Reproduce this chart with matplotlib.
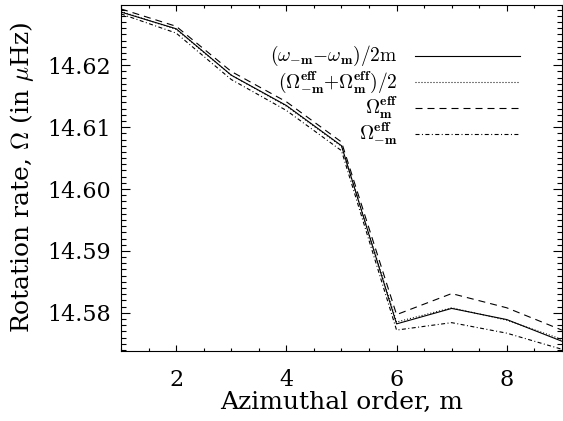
import numpy as np
import matplotlib
matplotlib.use('Agg')
import matplotlib.pyplot as plt
from matplotlib.ticker import MultipleLocator

## Data:
m = [1, 2, 3, 4, 5, 6, 7, 8, 9]
omega_diff = [14.6286, 14.6259, 14.6184, 14.6135, 14.6070, 14.5782, 14.5807, 14.5789, 14.5754]  # (w_-m - w_m)/2m
omega_avg = [14.6287, 14.6258, 14.6184, 14.6134, 14.6069, 14.5785, 14.5808, 14.5788, 14.5757]   # (O_-m + O_m)/2
omega_m = [14.6291, 14.6263, 14.6190, 14.6141, 14.6076, 14.5797, 14.5831, 14.5808, 14.5772]     # O_m eff
omega_mm = [14.6283, 14.6252, 14.6177, 14.6127, 14.6062, 14.5772, 14.5784, 14.5767, 14.5741]    # O_-m eff

labels = [r'$(\omega_{\mathbf{-m}}{-}\omega_{\mathbf{m}})/2\mathrm{m}$',
          r'$(\Omega^{\mathbf{eff}}_{\mathbf{-m}}{+}\Omega^{\mathbf{eff}}_{\mathbf{m}})/2$',
          r'$\Omega^{\mathbf{eff}}_{\mathbf{m}}$',
          r'$\Omega^{\mathbf{eff}}_{\mathbf{-m}}$']

plt.rcParams['font.family'] = 'DejaVu Serif'
plt.rcParams['mathtext.fontset'] = 'cm'

fig = plt.figure(figsize=(5.63, 4.21), dpi=100)
ax = fig.add_axes([0.215, 0.166, 0.783, 0.823])

# IDL-like line styles: solid, dotted, dashed, dash-dot
styles = ['-', (0, (0.9, 1.8)), (0, (6.3, 4.5)), (0, (3.6, 2.2, 0.9, 2.2))]
series = [omega_diff, omega_avg, omega_m, omega_mm]
for s, ls in zip(series, styles):
    ax.plot(m, s, color='black', lw=0.8, ls=ls)

ax.set_xlim(1, 9)
ax.set_ylim(14.5738, 14.6298)
ax.xaxis.set_major_locator(MultipleLocator(2))
ax.xaxis.set_minor_locator(MultipleLocator(0.5))
ax.yaxis.set_major_locator(MultipleLocator(0.01))
ax.yaxis.set_minor_locator(MultipleLocator(0.001))
ax.yaxis.set_major_formatter(matplotlib.ticker.FormatStrFormatter('%.2f'))
ax.tick_params(which='both', direction='in', top=True, right=True, labelsize=16, width=0.8)
ax.tick_params(axis='x', which='major', length=4.5, pad=13)
ax.tick_params(axis='x', which='minor', length=2.2)
ax.tick_params(axis='y', which='major', length=6.5, pad=7)
ax.tick_params(axis='y', which='minor', length=3.6)
for sp in ax.spines.values():
    sp.set_linewidth(0.8)

ax.set_xlabel('Azimuthal order, m', fontsize=18, labelpad=0)
ax.set_ylabel(r'Rotation rate, $\Omega$ (in $\mu$Hz)', fontsize=18, labelpad=8)

## Legend drawn by hand so the labels are right-aligned:
rows = [0.851, 0.776, 0.701, 0.626]
for y, lab, ls in zip(rows, labels, styles):
    ax.text(0.628, y, lab, transform=ax.transAxes, ha='right', va='center', fontsize=14)
    ax.plot([0.667, 0.905], [y, y], transform=ax.transAxes, color='black', lw=0.8, ls=ls)

fig.savefig('out.png', dpi=100)
